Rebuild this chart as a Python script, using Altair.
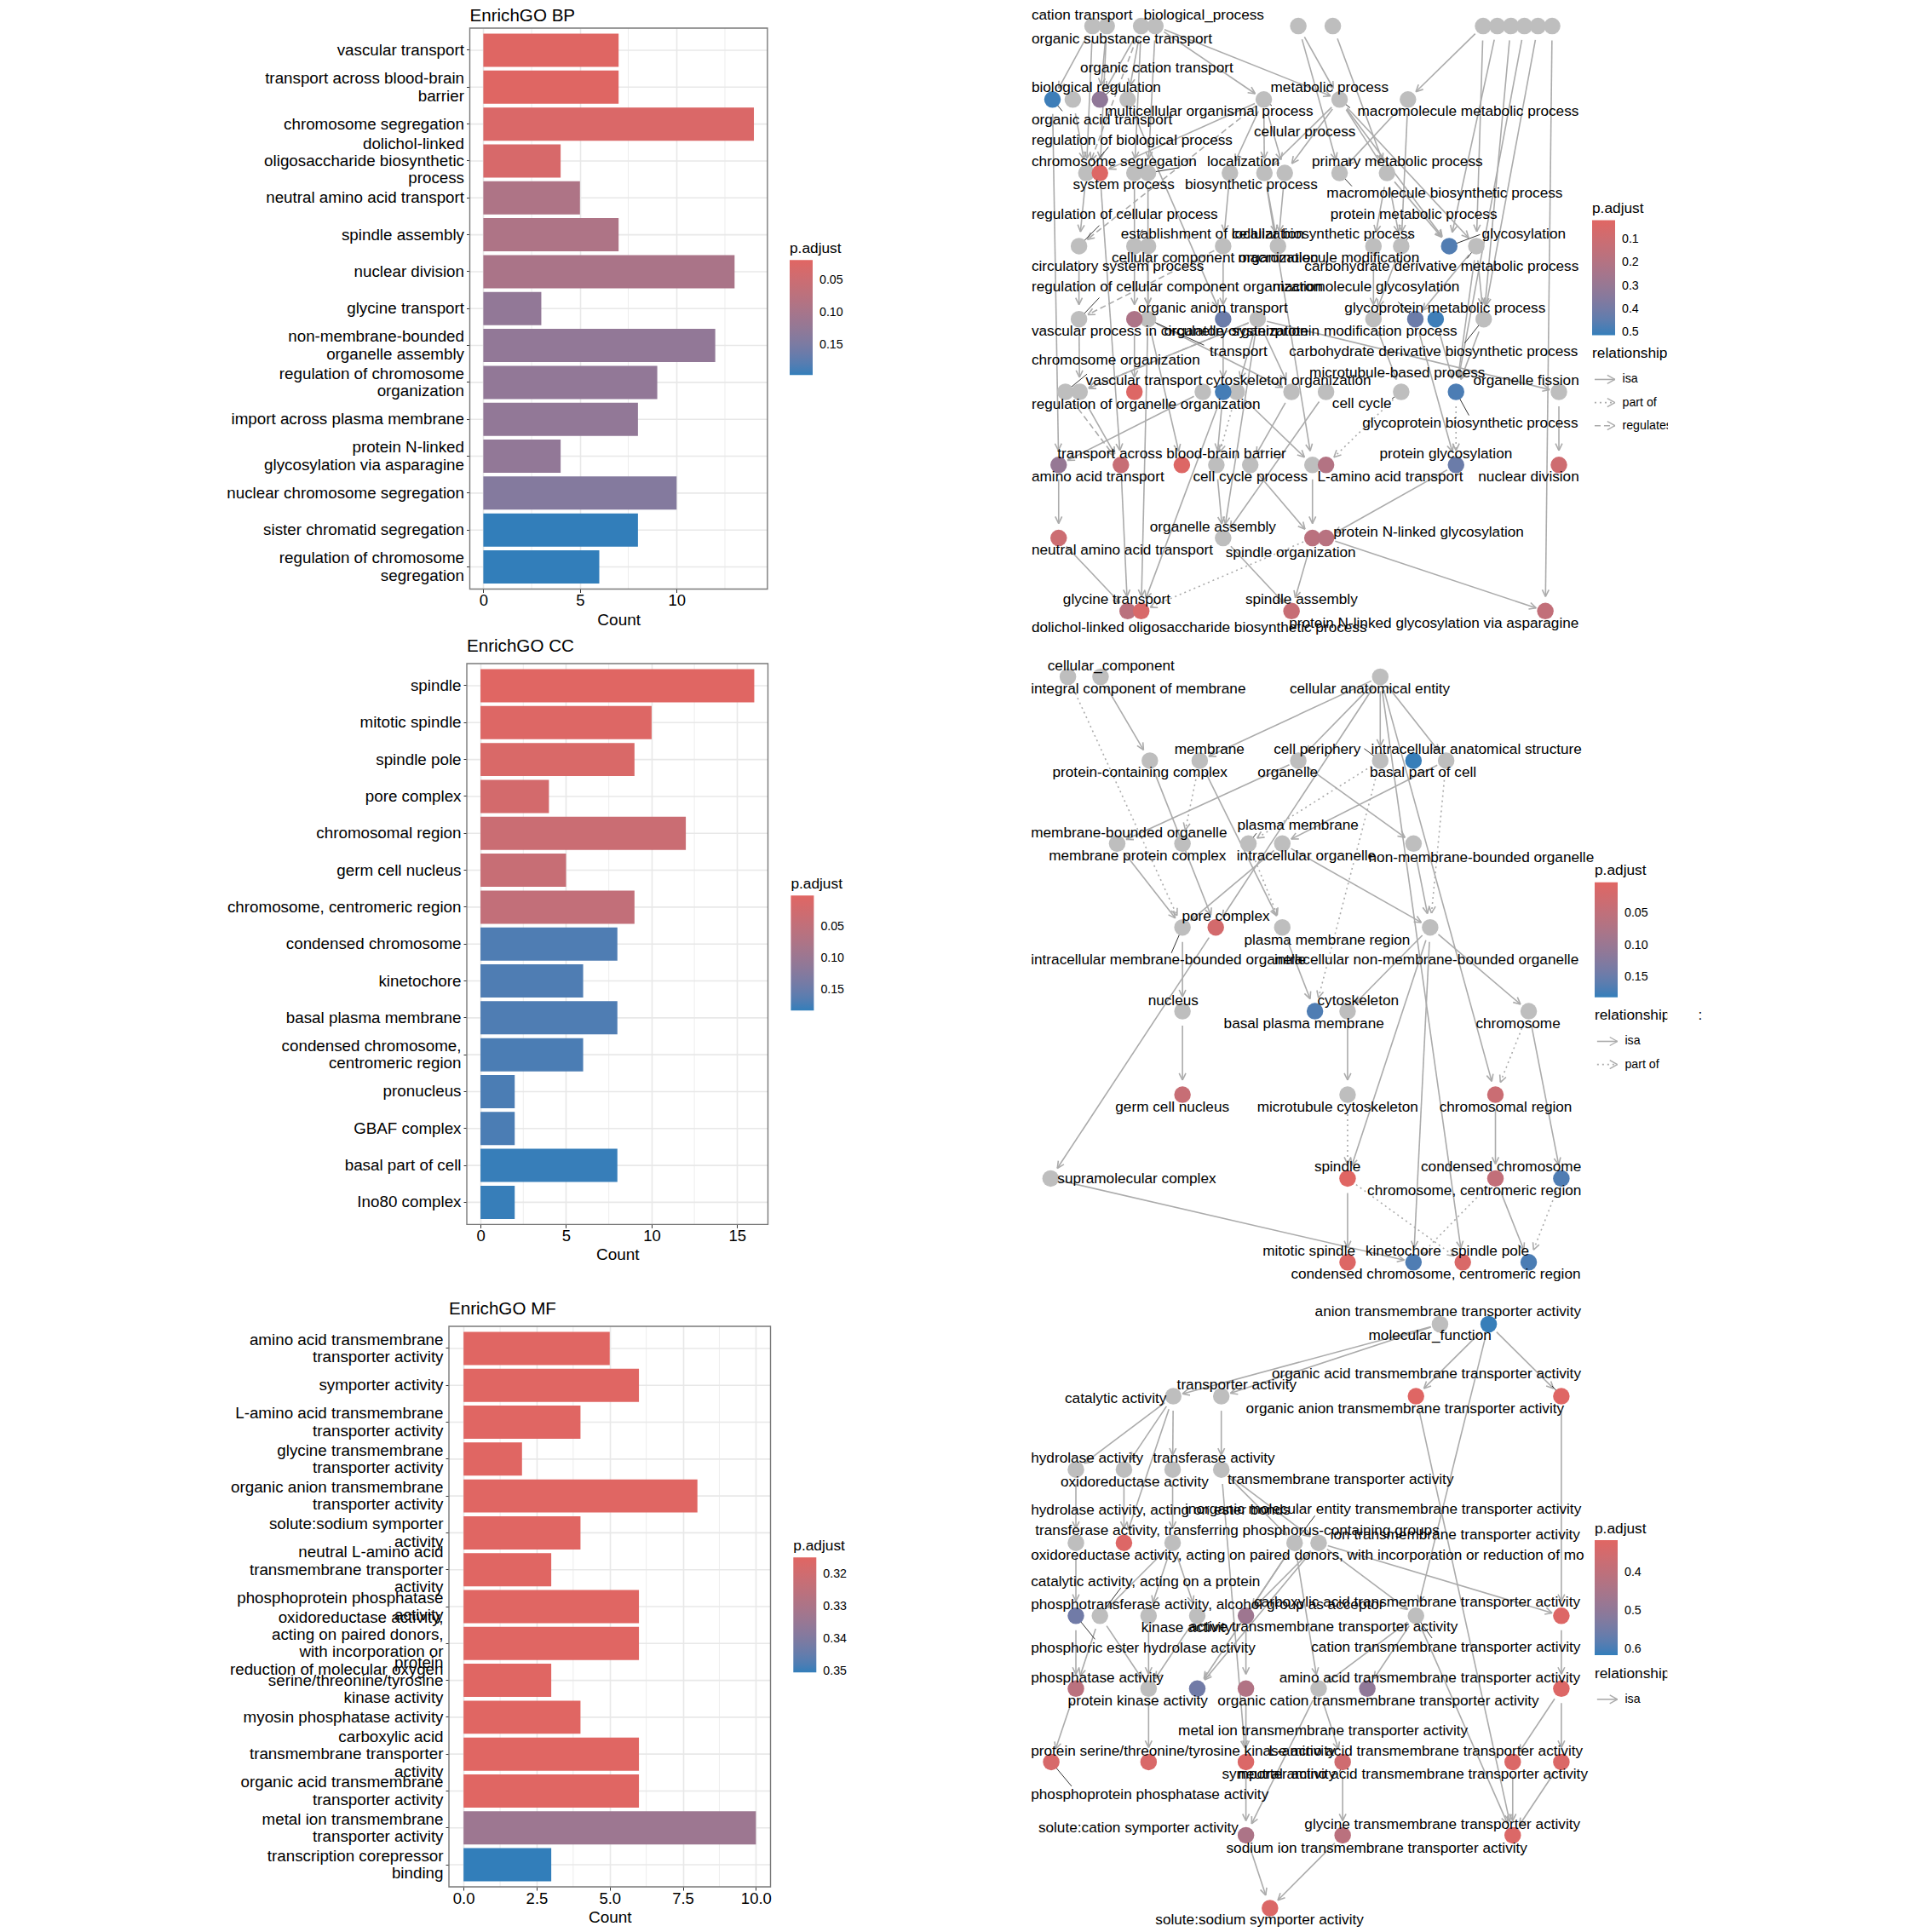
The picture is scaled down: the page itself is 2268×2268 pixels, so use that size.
import math
import altair as alt
import pandas as pd

RED, BLUE = "#E06663", "#327EBA"
EDGE = "#ABABAB"
GREY = "#BEBEBE"
FONT = "Liberation Sans"
KX = 1568 / 1134

# ---------- bar panels ----------
BP_TERMS = ["vascular transport", "transport across blood-brain\nbarrier", "chromosome segregation",
            "dolichol-linked\noligosaccharide biosynthetic\nprocess", "neutral amino acid transport",
            "spindle assembly", "nuclear division", "glycine transport",
            "non-membrane-bounded\norganelle assembly", "regulation of chromosome\norganization",
            "import across plasma membrane", "protein N-linked\nglycosylation via asparagine",
            "nuclear chromosome segregation", "sister chromatid segregation",
            "regulation of chromosome\nsegregation"]
BP_COUNT = [7, 7, 14, 4, 5, 7, 13, 3, 12, 9, 8, 4, 10, 8, 6]
BP_PADJ = [.019, .019, .028, .032, .09, .09, .095, .125, .125, .125, .125, .125, .14, .197, .197]

CC_TERMS = ["spindle", "mitotic spindle", "spindle pole", "pore complex", "chromosomal region",
            "germ cell nucleus", "chromosome, centromeric region", "condensed chromosome", "kinetochore",
            "basal plasma membrane", "condensed chromosome,\ncentromeric region", "pronucleus",
            "GBAF complex", "basal part of cell", "Ino80 complex"]
CC_COUNT = [16, 10, 9, 4, 12, 5, 9, 8, 6, 8, 6, 2, 2, 8, 2]
CC_PADJ = [.001, .005, .012, .02, .034, .038, .046, .168, .168, .168, .17, .17, .17, .18, .18]

MF_TERMS = ["amino acid transmembrane\ntransporter activity", "symporter activity",
            "L-amino acid transmembrane\ntransporter activity", "glycine transmembrane\ntransporter activity",
            "organic anion transmembrane\ntransporter activity", "solute:sodium symporter\nactivity",
            "neutral L-amino acid\ntransmembrane transporter\nactivity", "phosphoprotein phosphatase\nactivity",
            "oxidoreductase activity,\nacting on paired donors,\nwith incorporation or\nreduction of molecular oxygen",
            "protein\nserine/threonine/tyrosine\nkinase activity", "myosin phosphatase activity",
            "carboxylic acid\ntransmembrane transporter\nactivity", "organic acid transmembrane\ntransporter activity",
            "metal ion transmembrane\ntransporter activity", "transcription corepressor\nbinding"]
MF_COUNT = [5, 6, 4, 2, 8, 4, 3, 6, 6, 3, 4, 6, 6, 10, 3]
MF_PADJ = [.3149] * 13 + [.3335, .3504]

# ---------- BP network ----------
BP_ROWS = {"a": 62, "b": 240, "c": 418, "d": 595, "e": 772, "f": 948, "g": 1125, "h": 1302, "i": 1479}
BP_NODES = {
    "a": [204, 227, 283, 306, 538, 594, 838, 861, 883, 905, 927, 950],
    "b": [139, 172, 216, 261, 482, 605, 716],
    "c": [194, 216, 272, 294, 427, 483, 516, 605, 682],
    "d": [182, 272, 294, 416, 505, 660, 705, 783, 827],
    "e": [182, 272, 294, 416, 472, 660, 728, 761, 839],
    "f": [160, 183, 272, 383, 416, 438, 527, 583, 705, 794, 961],
    "g": [149, 250, 349, 405, 460, 561, 583, 794, 961],
    "h": [149, 416, 561, 583],
    "i": [261, 283, 527, 939],
}
BP_P = {"b1": .5, "b3": .32, "c2": .03, "d8": .47, "e2": .22, "e4": .42, "e7": .42, "e8": .5, "f3": .03,
        "f5": .49, "f10": .48, "g1": .3, "g2": .12, "g3": .03, "g7": .2, "g8": .42, "g9": .09, "h1": .1,
        "h3": .17, "h4": .18, "i1": .17, "i2": .05, "i3": .12, "i4": .14}
BP_SOLID = """a1-b1 a1-c1 a2-b3 a2-c2 a3-b4 a3-c3 a3-b3 a4-c4 a4-b5 a4-b6 a5-b6 a5-c8 a6-c9 a7-b7 a7-d9 a8-d8
a9-e9 a10-f10 a11-e9 a12-i4 b1-g1 b2-c1 b4-e4 b5-c2 b5-c5 b5-c6 b5-c7 b6-c7 b6-c6 b6-c9 b6-d8 b6-d9 b7-c8 b7-d7
c1-d1 c2-g2 c3-e2 c4-e3 c5-d4 c6-d5 c7-d5 c6-g6 c9-d6 c9-d7 c9-d8 d1-e1 d3-e3 d4-e4 d6-e6 d7-e6 d9-e9 d9-e7
d9-f10 e1-f2 e2-f3 e3-g3 e3-i2 e3-f7 e4-f5 e5-f2 e5-f6 e5-f7 e5-h2 e5-f11 e6-f9 e7-g8 e8-f10 e9-f10 f2-g2 f4-g1
f5-g4 f5-i2 f6-g6 f7-g5 f8-h2 f11-g9 g1-h1 g2-i1 g4-h2 g5-h3 g6-h3 g8-h4 h1-i1 h2-i3 h3-i3 h4-i4"""
BP_DASH = "a3-c1 b5-d1 d4-e1 e5-f2 f1-g2"
BP_DOT = "f9-g7 f6-g4 f10-g8 h3-i2"
BP_LABELS = [("cation transport", 105, 36), ("biological_process", 287, 36), ("organic substance transport", 105, 93),
    ("organic cation transport", 184, 165), ("biological regulation", 105, 212), ("metabolic process", 493, 212),
    ("multicellular organismal process", 224, 270), ("macromolecule metabolic process", 634, 270),
    ("organic acid transport", 105, 290), ("cellular process", 466, 318), ("regulation of biological process", 105, 340),
    ("chromosome segregation", 105, 390), ("localization", 390, 390), ("primary metabolic process", 560, 390),
    ("system process", 172, 447), ("biosynthetic process", 354, 447), ("macromolecule biosynthetic process", 584, 468),
    ("regulation of cellular process", 105, 518), ("protein metabolic process", 590, 518),
    ("establishment of localization", 250, 567), ("cellular biosynthetic process", 430, 567), ("glycosylation", 836, 567),
    ("cellular component organization", 235, 625), ("macromolecule modification", 440, 625),
    ("carbohydrate derivative metabolic process", 548, 645), ("circulatory system process", 105, 645),
    ("regulation of cellular component organization", 105, 694), ("macromolecule glycosylation", 496, 694),
    ("organic anion transport", 278, 745), ("glycoprotein metabolic process", 613, 745),
    ("vascular process in circulatory system", 105, 801), ("organelle organization", 320, 801),
    ("protein modification process", 500, 801), ("transport", 394, 851),
    ("carbohydrate derivative biosynthetic process", 523, 851), ("chromosome organization", 105, 872),
    ("microtubule-based process", 556, 902), ("vascular transport", 193, 922), ("cytoskeleton organization", 388, 922),
    ("organelle fission", 822, 922), ("regulation of organelle organization", 105, 978), ("cell cycle", 593, 976),
    ("glycoprotein biosynthetic process", 642, 1025), ("transport across blood-brain barrier", 147, 1098),
    ("protein glycosylation", 670, 1098), ("amino acid transport", 105, 1155), ("cell cycle process", 367, 1155),
    ("L-amino acid transport", 569, 1155), ("nuclear division", 830, 1155), ("organelle assembly", 297, 1276),
    ("protein N-linked glycosylation", 595, 1288), ("neutral amino acid transport", 105, 1332),
    ("spindle organization", 420, 1337), ("glycine transport", 156, 1452), ("spindle assembly", 452, 1452),
    ("dolichol-linked oligosaccharide biosynthetic process", 105, 1520),
    ("protein N-linked glycosylation via asparagine", 523, 1509)]
BP_LEAD = [(139, 240, 155, 268), (216, 240, 248, 200), (194, 418, 230, 355), (294, 418, 345, 405), (272, 595, 285, 555),
    (182, 595, 215, 545), (182, 772, 215, 720), (294, 772, 385, 835), (160, 948, 195, 905), (583, 948, 590, 935),
    (705, 948, 690, 965), (794, 948, 815, 1005), (783, 595, 833, 567), (827, 595, 812, 625), (839, 772, 808, 830),
    (728, 772, 700, 730), (705, 595, 722, 565), (605, 418, 625, 450), (482, 240, 495, 255), (605, 240, 622, 260)]

# ---------- CC network ----------
CC_ROWS = {"a": 91, "b": 294, "c": 495, "d": 698, "e": 901, "f": 1103, "g": 1306, "h": 1509}
CC_NODES = {"a": [164, 217, 671], "b": [297, 378, 538, 671, 725, 778], "c": [244, 350, 457, 512, 725],
            "d": [350, 404, 512, 752], "e": [350, 565, 618, 912], "f": [350, 618, 858],
            "g": [136, 618, 858, 965], "h": [618, 725, 805, 912]}
CC_P = {"b5": .18, "d2": .02, "e2": .168, "f1": .038, "f3": .034, "g2": .001, "g3": .046, "g4": .168,
        "h1": .005, "h2": .168, "h3": .012, "h4": .17}
CC_SOLID = """a2-b1 a3-b2 a3-b3 a3-b4 a3-b6 a3-d2 a3-f3 a3-h3 b1-d2 b2-d3 b3-c1 b3-c5 b6-c4 c1-d1 c4-d1 c4-d4
c5-d4 d1-e1 e1-f1 d3-e2 d2-g1 d4-e3 d4-e4 d4-g2 d4-h2 e3-f2 e4-g4 f3-g3 g3-h4 g2-h1 g1-h2"""
CC_DASH = ""
CC_DOT = "a1-d1 b2-c2 b4-c3 b4-e2 b6-d4 c3-d3 e4-f3 f2-g2 g2-h3 g3-h2 g4-h4"
CC_LABELS = [("cellular_component", 131, 65), ("integral component of membrane", 104, 121),
    ("cellular anatomical entity", 524, 121), ("membrane", 337, 267), ("cell periphery", 498, 267),
    ("intracellular anatomical structure", 656, 267), ("protein-containing complex", 139, 324), ("organelle", 472, 324),
    ("basal part of cell", 654, 324), ("plasma membrane", 439, 450), ("membrane-bounded organelle", 104, 469),
    ("membrane protein complex", 133, 526), ("intracellular organelle", 438, 526),
    ("non-membrane-bounded organelle", 652, 530), ("pore complex", 349, 672), ("plasma membrane region", 450, 729),
    ("intracellular membrane-bounded organelle", 104, 778), ("intracellular non-membrane-bounded organelle", 499, 778),
    ("nucleus", 294, 875), ("cytoskeleton", 569, 875), ("basal plasma membrane", 417, 931), ("chromosome", 826, 931),
    ("germ cell nucleus", 241, 1133), ("microtubule cytoskeleton", 471, 1133), ("chromosomal region", 767, 1133),
    ("spindle", 564, 1279), ("condensed chromosome", 737, 1279), ("supramolecular complex", 147, 1307),
    ("chromosome, centromeric region", 650, 1336), ("mitotic spindle", 480, 1482), ("kinetochore", 647, 1482),
    ("spindle pole", 786, 1482), ("condensed chromosome, centromeric region", 526, 1538)]
CC_LEAD = [(671, 294, 645, 265), (457, 495, 470, 470), (350, 698, 332, 760)]

# ---------- MF network ----------
MF_ROWS = {"a": 90, "b": 265, "c": 443, "d": 621, "e": 798, "f": 975, "g": 1153, "h": 1331, "i": 1508}
MF_NODES = {"a": [768, 847], "b": [335, 413, 729, 965], "c": [177, 255, 334, 413], "d": [177, 255, 334, 532, 571],
            "e": [177, 216, 295, 374, 453, 729, 965], "f": [177, 295, 374, 453, 571, 650, 965],
            "g": [137, 295, 453, 610, 886, 965], "h": [453, 610, 886], "i": [492]}
MF_P = {"a2": .612, "b3": .318, "b4": .318, "d2": .325, "e1": .55, "e5": .47, "e7": .325, "f1": .41, "f3": .55,
        "f4": .43, "f6": .5, "f7": .325, "g1": .34, "g2": .335, "g3": .33, "g4": .36, "g5": .33, "g6": .33,
        "h1": .44, "h2": .41, "h3": .33, "i1": .33}
MF_SOLID = """a1-b1 a1-b2 a2-b3 a2-b4 a2-e6 b1-c1 b1-c2 b1-c3 b1-d2 b2-c4 c4-d4 c4-d5 c4-g3 c1-d1 c2-d2 c3-d3 d1-e1
e1-f1 d3-e2 d3-e3 d3-e4 e2-f1 e2-f2 e3-f2 e4-f2 f2-g2 f1-g1 d4-f3 d4-e5 d5-e5 d5-f3 d4-f5 d5-e7 d5-e6 e5-f4 f4-g3
g3-h1 b3-h3 e6-f5 e6-f6 e6-h3 b4-e7 e7-f7 f7-g5 f7-g6 g6-h3 g5-h3 f5-g4 f5-h1 g4-h2 h2-i1 h1-i1"""
MF_DASH = ""
MF_DOT = ""
MF_LABELS = [("anion transmembrane transporter activity", 565, 61), ("molecular_function", 652, 118),
    ("organic acid transmembrane transporter activity", 495, 210), ("transporter activity", 341, 237),
    ("catalytic activity", 159, 272), ("organic anion transmembrane transporter activity", 453, 296),
    ("hydrolase activity", 104, 416), ("transferase activity", 302, 416), ("transmembrane transporter activity", 423, 467),
    ("oxidoreductase activity", 152, 473), ("hydrolase activity, acting on ester bonds", 104, 542),
    ("inorganic molecular entity transmembrane transporter activity", 354, 539),
    ("transferase activity, transferring phosphorus-containing groups", 111, 592),
    ("ion transmembrane transporter activity", 590, 601),
    ("oxidoreductase activity, acting on paired donors, with incorporation or reduction of mo", 104, 651),
    ("catalytic activity, acting on a protein", 104, 716),
    ("phosphotransferase activity, alcohol group as acceptor", 104, 771),
    ("carboxylic acid transmembrane transporter activity", 466, 765), ("kinase activity", 283, 828),
    ("active transmembrane transporter activity", 361, 825), ("phosphoric ester hydrolase activity", 104, 877),
    ("cation transmembrane transporter activity", 559, 874), ("phosphatase activity", 104, 949),
    ("amino acid transmembrane transporter activity", 507, 949), ("protein kinase activity", 164, 1006),
    ("organic cation transmembrane transporter activity", 407, 1006),
    ("metal ion transmembrane transporter activity", 343, 1078),
    ("protein serine/threonine/tyrosine kinase activity", 104, 1127),
    ("L-amino acid transmembrane transporter activity", 490, 1127), ("symporter activity", 414, 1184),
    ("neutral amino acid transmembrane transporter activity", 440, 1184),
    ("phosphoprotein phosphatase activity", 104, 1233), ("solute:cation symporter activity", 116, 1314),
    ("glycine transmembrane transporter activity", 548, 1305),
    ("sodium ion transmembrane transporter activity", 421, 1364), ("solute:sodium symporter activity", 306, 1538)]
MF_LEAD = [(965, 265, 950, 240), (177, 798, 208, 855), (216, 798, 250, 730), (729, 798, 755, 852), (137, 1153, 170, 1212),
    (610, 1153, 605, 1178), (532, 621, 565, 555), (177, 621, 185, 600)]


def color_scale(dom):
    return alt.Scale(domain=[dom[1], dom[0]], range=[BLUE, RED], interpolate="lab", nice=False, zero=False)


def color_legend(x, y, values, fmt):
    return alt.Legend(title="p.adjust", orient="none", legendX=x, legendY=y, direction="vertical",
                      gradientLength=135, gradientThickness=27, values=values, format=fmt,
                      titleFontSize=17.3, titleFontWeight="normal", titlePadding=5, titleColor="black",
                      labelFontSize=14.2, labelOffset=8, labelColor="black", gradientStrokeWidth=0,
                      titleFont=FONT, labelFont=FONT)


LINE_H = 20.4
N_LINES = "length(split(datum.value, '\\n'))"
LABEL_SHIFT = {"condition": [{"test": f"{N_LINES} == {n}", "value": -(n - 1) * LINE_H / 2} for n in (2, 3, 4)], "value": 0}
BAR_COL_W = 377.5
GRID_MAJOR = "#E8E8E8"


def bars(terms, counts, padj, title, inset, w, h, xdom, ticks, minor, fmt, dom, lx, ly, lvals, title_off=9):
    df = pd.DataFrame({"term": terms, "Count": counts, "p": padj})
    xs = alt.Scale(domain=xdom, range=[inset, inset + w], nice=False, zero=False)
    yscale = alt.Scale(paddingInner=.1, paddingOuter=.15)
    xaxis = alt.Axis(
        values=ticks, format=fmt, title="Count", titleFontSize=19, titleFontWeight="normal", titleColor="black",
        labelFontSize=18.5, labelColor="black", tickColor="#333333", tickSize=4, domain=False, grid=True,
        gridColor=GRID_MAJOR, gridWidth=1.6, labelPadding=0, titlePadding=4, labelFlush=False, labelOverlap=False)
    grid_minor = alt.Chart(pd.DataFrame({"m": minor})).mark_rule(color="#EDEDED", strokeWidth=1).encode(
        x=alt.X("m:Q", scale=xs, axis=xaxis, title="Count"))
    ylines = pd.DataFrame({"term": terms, "lo": [xdom[0]] * len(terms), "hi": [xdom[1]] * len(terms)})
    grid_y = alt.Chart(ylines).mark_rule(color=GRID_MAJOR, strokeWidth=1.6).encode(
        x=alt.X("lo:Q", scale=xs, axis=xaxis, title="Count"), x2="hi:Q",
        y=alt.Y("term:N", sort=terms, scale=yscale, axis=alt.Axis(
            title=None, labelFontSize=18.8, labelColor="black", tickColor="#333333", tickSize=4, domain=False, grid=False,
            labelPadding=3, labelLimit=600, labelLineHeight=LINE_H, offset=-inset,
            labelExpr="split(datum.label, '\\n')", labelOverlap=False, labelBound=False, labelOffset=LABEL_SHIFT)))
    bar = alt.Chart(df).mark_bar().encode(
        x=alt.X("Count:Q", scale=xs, axis=xaxis),
        y=alt.Y("term:N", sort=terms, scale=yscale),
        color=alt.Color("p:Q", scale=color_scale(dom), legend=color_legend(lx + inset, ly, lvals, ".2f")),
    )
    frame = alt.Chart(pd.DataFrame({"lo": [xdom[0]], "hi": [xdom[1]]})).mark_rect(
        fill=None, stroke="#7A7A7A", strokeWidth=1.4).encode(
        x=alt.X("lo:Q", scale=xs, axis=xaxis, title="Count"), x2="hi:Q", y=alt.value(0), y2=alt.value(h))
    return alt.layer(grid_minor, grid_y, bar, frame).properties(
        width=BAR_COL_W, height=h,
        title=alt.TitleParams(title, anchor="start", frame="group", fontSize=20.6, fontWeight="normal",
                              color="black", offset=title_off, font=FONT, dx=inset))


def cap(x1, y1, x2, y2, rx=11, ry=17):
    dx, dy = x2 - x1, y2 - y1
    t = 1 / max(1e-6, math.hypot(dx / rx, dy / ry))
    return dx * t, dy * t


def network(rows, nodes, pvals, solid, dash, dot, labels, lead, y0, k, top, H, W, dom, lx, ly, lvals, rel, masks=(), extra=()):
    X = lambda zx: zx / KX
    Y = lambda zy: y0 + zy / k - top
    pos = {}
    for r, xs_ in nodes.items():
        for i, zx in enumerate(xs_):
            pos[f"{r}{i + 1}"] = (X(zx), Y(rows[r]))
    sx, sy = alt.Scale(domain=[0, W], nice=False, zero=False), alt.Scale(domain=[H, 0], nice=False, zero=False)
    xe, ye = alt.X("x:Q", scale=sx, axis=None), alt.Y("y:Q", scale=sy, axis=None)

    def segs(spec):
        seg, heads = [], []
        for e in spec.split():
            a, b = e.split("-")
            (x1, y1), (x2, y2) = pos[a], pos[b]
            cx, cy = cap(x1, y1, x2, y2)
            sxx, syy, tx, ty = x1 + cx, y1 + cy, x2 - cx, y2 - cy
            seg.append(dict(x=sxx, y=syy, x2=tx, y2=ty))
            L = math.hypot(x2 - x1, y2 - y1)
            ux, uy = (x2 - x1) / L, (y2 - y1) / L
            for ang in (.45, -.45):
                c, s = math.cos(ang), math.sin(ang)
                heads.append(dict(x=tx, y=ty, x2=tx - 9 * (ux * c - uy * s), y2=ty - 9 * (ux * s + uy * c)))
        return seg, heads

    layers = []
    for spec, d in ((solid, None), (dash, [7, 4]), (dot, [2, 4])):
        if not spec.strip():
            continue
        seg, heads = segs(spec)
        kw = {"strokeDash": d} if d else {}
        layers.append(alt.Chart(pd.DataFrame(seg)).mark_rule(color=EDGE, strokeWidth=1.6, **kw).encode(x=xe, y=ye, x2="x2:Q", y2="y2:Q"))
        layers.append(alt.Chart(pd.DataFrame(heads)).mark_rule(color=EDGE, strokeWidth=1.6).encode(x=xe, y=ye, x2="x2:Q", y2="y2:Q"))
    ld = pd.DataFrame([dict(x=X(a), y=Y(b), x2=X(c), y2=Y(d_)) for a, b, c, d_ in lead])
    layers.append(alt.Chart(ld).mark_rule(color="#333333", strokeWidth=1).encode(x=xe, y=ye, x2="x2:Q", y2="y2:Q"))
    nd = pd.DataFrame([dict(id=n, x=p[0], y=p[1], p=pvals.get(n)) for n, p in pos.items()])
    layers.append(alt.Chart(nd[nd.p.isna()]).mark_circle(size=380, opacity=1, color=GREY).encode(x=xe, y=ye))
    layers.append(alt.Chart(nd[nd.p.notna()]).mark_circle(size=380, opacity=1).encode(
        x=xe, y=ye, color=alt.Color("p:Q", scale=color_scale(dom), legend=color_legend(lx, ly, lvals, ".2f" if lvals[0] < .1 else ".1f"))))
    tx = pd.DataFrame([dict(t=t, x=X(a), y=Y(b)) for t, a, b in labels])
    layers.append(alt.Chart(tx).mark_text(align="left", baseline="middle", fontSize=17.2, color="black", font=FONT).encode(x=xe, y=ye, text="t:N"))

    # relationship key
    lx0, ty, entries = rel
    layers.append(alt.Chart(pd.DataFrame([dict(t="relationship", x=X(lx0), y=Y(ty))])).mark_text(
        align="left", baseline="middle", fontSize=17.3, color="black", font=FONT).encode(x=xe, y=ye, text="t:N"))
    for name, zy, d in entries:
        kw = {"strokeDash": d} if d else {}
        key = [dict(x=X(lx0 + 4), y=Y(zy), x2=X(lx0 + 37), y2=Y(zy))]
        tipx = X(lx0 + 37)
        hd = [dict(x=tipx, y=Y(zy), x2=tipx - 9, y2=Y(zy) + s * 5) for s in (-1, 1)]
        layers.append(alt.Chart(pd.DataFrame(key)).mark_rule(color=EDGE, strokeWidth=1.6, **kw).encode(x=xe, y=ye, x2="x2:Q", y2="y2:Q"))
        layers.append(alt.Chart(pd.DataFrame(hd)).mark_rule(color=EDGE, strokeWidth=1.4).encode(x=xe, y=ye, x2="x2:Q", y2="y2:Q"))
        layers.append(alt.Chart(pd.DataFrame([dict(t=name, x=X(lx0 + 49), y=Y(zy))])).mark_text(
            align="left", baseline="middle", fontSize=14.2, color="black", font=FONT).encode(x=xe, y=ye, text="t:N"))
    for a, b, c, d_ in masks:
        layers.append(alt.Chart(pd.DataFrame([dict(x=X(a), y=Y(b), x2=X(c), y2=Y(d_))])).mark_rect(color="white").encode(
            x=xe, y=ye, x2="x2:Q", y2="y2:Q"))
    for t, a, b in extra:
        layers.append(alt.Chart(pd.DataFrame([dict(t=t, x=X(a), y=Y(b))])).mark_text(
            align="left", baseline="middle", fontSize=17.3, color="black", font=FONT).encode(x=xe, y=ye, text="t:N"))
    return alt.layer(*layers).properties(width=W, height=H)


def blank(w, h):
    return alt.Chart(pd.DataFrame({"v": [0]})).mark_point(opacity=0, size=1).encode(x=alt.value(5), y=alt.value(5)).properties(width=w, height=h)


tops = [32.5, 778.6, 1556.0]
hts = [658.5, 658.4, 658.0]
lefts = [551.0, 547.5, 526.5]
wids = [349.4, 353.5, 377.5]
GAP_TRIM = [1.5, 0.7]
GW = 1100
TOP_SPACE = 17

p_bp = bars(BP_TERMS, BP_COUNT, BP_PADJ, "EnrichGO BP", lefts[0] - lefts[2], wids[0], hts[0], [-.7, 14.7], [0, 5, 10], [2.5, 7.5, 12.5], "d",
            (.018, .197), 375.5, 250, [.05, .10, .15], title_off=3)
p_cc = bars(CC_TERMS, CC_COUNT, CC_PADJ, "EnrichGO CC", lefts[1] - lefts[2], wids[1], hts[1], [-.8, 16.8], [0, 5, 10, 15], [2.5, 7.5, 12.5], "d",
            (.0006, .182), 380.4, 250, [.05, .10, .15])
p_mf = bars(MF_TERMS, MF_COUNT, MF_PADJ, "EnrichGO MF", 0, wids[2], hts[2], [-.5, 10.5], [0, 2.5, 5, 7.5, 10], [1.25, 3.75, 6.25, 8.75], ".1f",
            (.3148, .3504), 404.3, 249, [.32, .33, .34, .35])

g_bp = network(BP_ROWS, BP_NODES, BP_P, BP_SOLID, BP_DASH, BP_DOT, BP_LABELS, BP_LEAD, 0, 1568 / 760, tops[0], hts[0], GW,
               (.016, .514), 734, 203.3, [.1, .2, .3, .4, .5],
               (1015, 856, [("isa", 918, None), ("part of", 974, [2, 4]), ("regulates", 1030, [7, 4])]),
               masks=[(1138, 1010, 1230, 1050)])
g_cc = network(CC_ROWS, CC_NODES, CC_P, CC_SOLID, CC_DASH, CC_DOT, CC_LABELS, CC_LEAD, 750, 1568 / 760, tops[1], hts[1], GW,
               (.0006, .182), 737, 234.4, [.05, .10, .15],
               (1019, 912, [("isa", 974, None), ("part of", 1030, [2, 4])]),
               masks=[(1137, 895, 1180, 930)], extra=[(":", 1187, 912)])
g_mf = network(MF_ROWS, MF_NODES, MF_P, MF_SOLID, MF_DASH, MF_DOT, MF_LABELS, MF_LEAD, 1510, 1568 / 758, tops[2], hts[2], GW,
               (.316, .615), 737, 228.8, [.4, .5, .6],
               (1019, 940, [("isa", 1001, None)]),
               masks=[(1137, 922, 1180, 958)])

cells = [blank(10, TOP_SPACE) for _ in range(4)]
panels = [(p_bp, g_bp), (p_cc, g_cc), (p_mf, g_mf)]
COL1, COL3 = lefts[2] - 8, 1134 - lefts[2] - wids[2]
for i, (p, g) in enumerate(panels):
    cells += [blank(COL1, hts[i]), p, blank(COL3, hts[i]), g]
    if i < 2:
        gap = tops[i + 1] - tops[i] - hts[i] - GAP_TRIM[i]
        cells += [blank(10, gap) for _ in range(4)]

chart = alt.concat(*cells, columns=4, spacing=0, bounds="flush", align="none").resolve_scale(
    color="independent", x="independent", y="independent"
).properties(padding=0, background="white").configure(font=FONT).configure_view(stroke=None)

chart.save("out.html", embed_options={"renderer": "svg", "actions": False})
